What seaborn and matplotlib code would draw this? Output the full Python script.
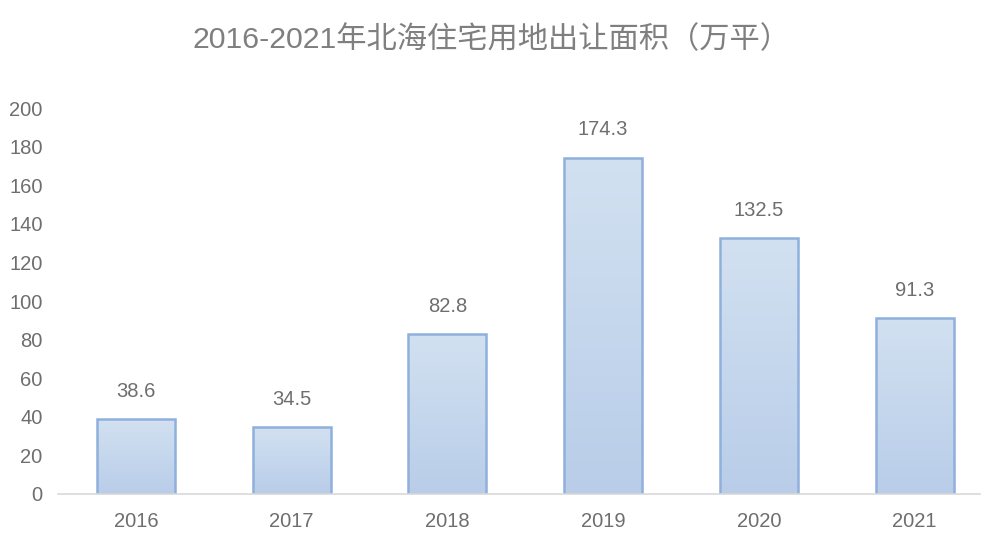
import numpy as np
import pandas as pd
import matplotlib
matplotlib.use("Agg")
import matplotlib.pyplot as plt
import seaborn as sns
from matplotlib.colors import LinearSegmentedColormap

years = ["2016", "2017", "2018", "2019", "2020", "2021"]
areas = [38.6, 34.5, 82.8, 174.3, 132.5, 91.3]
title = "2016-2021年北海住宅用地出让面积（万平）"

sns.set_theme(style="white")
plt.rcParams['font.family'] = ['Liberation Sans', 'Noto Sans CJK SC', 'DejaVu Sans']

df = pd.DataFrame({"year": years, "area": areas})

fig = plt.figure(figsize=(10, 5.45), dpi=100)
ax = fig.add_axes([0.058, 0.0936, 0.922, 0.7082])

sns.barplot(data=df, x="year", y="area", ax=ax, width=0.5,
            color="#c6d8ee", edgecolor="#8fb0dc", linewidth=1.8)

cmap = LinearSegmentedColormap.from_list("g", ["#b9cde9", "#d2e1f1"])
grad = np.linspace(0, 1, 256).reshape(-1, 1)
for p in ax.patches:
    x0, y0 = p.get_x(), p.get_y()
    w, h = p.get_width(), p.get_height()
    im = ax.imshow(grad, cmap=cmap, aspect="auto", origin="lower",
                   extent=[x0, x0 + w, y0, y0 + h], zorder=p.get_zorder() - 0.1)
    im.set_clip_path(p)
    p.set_facecolor("none")
    ax.annotate(f"{h:.1f}", (x0 + w / 2, h), xytext=(0, 20), textcoords="offset points",
                ha="center", va="center", fontsize=14.5, color="#6e6e6e")

ax.set_xlim(-0.5, 5.42)
ax.set_ylim(0, 200)
ax.set_yticks(range(0, 201, 20))
ax.set_xlabel("")
ax.set_ylabel("")
ax.tick_params(axis="both", length=0, labelsize=14.5, labelcolor="#6e6e6e")
ax.tick_params(axis="x", pad=13)
ax.tick_params(axis="y", pad=11)
for s in ["top", "right", "left"]:
    ax.spines[s].set_visible(False)
ax.spines["bottom"].set_color("#d9d9d9")
ax.spines["bottom"].set_linewidth(1.2)
ax.grid(False)

fig.text(0.491, 0.9114, title, ha="center", va="baseline", fontsize=21.8, color="#7f7f7f")

fig.savefig("out.png", dpi=100, facecolor="white")
